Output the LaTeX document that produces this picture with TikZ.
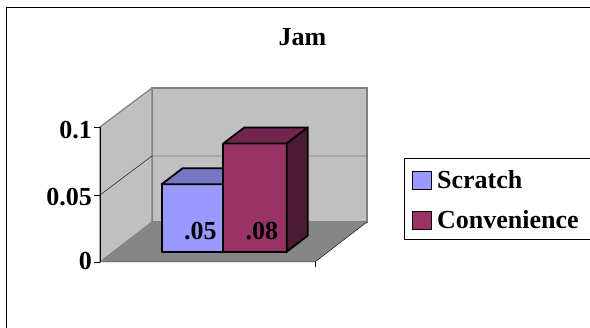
\documentclass[tikz,border=0pt]{standalone}
\usepackage{fontspec}
\setmainfont{Liberation Serif}

\begin{document}
\begin{tikzpicture}[x=1pt,y=-1pt,
  lbl/.style={font=\fontsize{26}{30}\selectfont\bfseries,inner sep=0pt},
  wall/.style={fill=wallgrey,draw=edgegrey,line width=1.2pt},
  barline/.style={draw=black,line width=1.8pt,line join=round}]
\definecolor{wallgrey}{RGB}{192,192,192}
\definecolor{edgegrey}{RGB}{128,128,128}
\definecolor{floorgrey}{RGB}{134,134,134}
\definecolor{scratchfront}{RGB}{153,153,255}
\definecolor{scratchtop}{RGB}{119,119,196}
\definecolor{convfront}{RGB}{153,51,102}
\definecolor{convtop}{RGB}{115,38,77}
\definecolor{convside}{RGB}{77,26,51}
\useasboundingbox (0,0) rectangle (590,328);
% chart frame
\draw[line width=1.5pt] (6.7,7.3) rectangle (600,340);
\node[lbl,anchor=base] (title) at (302.5,46) {Jam};
% walls and floor
\draw[wall] (152,88) rectangle (367,222);
\draw[wall] (100,127) -- (152,88) -- (152,222) -- (100,262) -- cycle;
\fill[floorgrey] (100,262) -- (152,222) -- (367,222) -- (315,262) -- cycle;
\draw (100,262) -- (315,262) -- (367,222);
\draw (315,262) -- (315,267);
\draw (100,195) -- (152,156) -- (367,156);
% value axis
\draw[line width=1pt] (100,127) -- (100,262);
\foreach \y in {127,195,262}
  \draw (94,\y) -- (100,\y);
\node[lbl,anchor=east] (t10) at (92,130.5) {0.1};
\node[lbl,anchor=east] (t05) at (92,197.5) {0.05};
\node[lbl,anchor=east] (t00) at (92,260.5) {0};
% Scratch bar
\draw[barline,fill=scratchfront] (161.7,251.7) rectangle (223.3,184.2);
\draw[barline,fill=scratchtop] (161.7,184.2) -- (182.7,168.2) -- (244.3,168.2) -- (223.3,184.2) -- cycle;
% Convenience bar
\draw[barline,fill=convfront] (223.3,251.7) rectangle (286.7,143.5);
\draw[barline,fill=convtop] (223.3,143.5) -- (244.3,127.5) -- (307.7,127.5) -- (286.7,143.5) -- cycle;
\draw[barline,fill=convside] (286.7,143.5) -- (307.7,127.5) -- (307.7,235.7) -- (286.7,251.7) -- cycle;
\node[lbl,anchor=base east] (v1) at (216.7,240) {.05};
\node[lbl,anchor=base east] (v2) at (278.3,240) {.08};
% legend
\draw[line width=1pt] (404.3,159) rectangle (600,240);
\draw[line width=1.5pt,fill=scratchfront] (412.7,171.5) rectangle (431.7,189.5);
\draw[line width=1.5pt,fill=convfront] (412.7,211.7) rectangle (431.7,229.7);
\node[lbl,anchor=base west] (k1) at (437,188.5) {Scratch};
\node[lbl,anchor=base west] (k2) at (437,228.3) {Convenience};
\end{tikzpicture}
\end{document}
